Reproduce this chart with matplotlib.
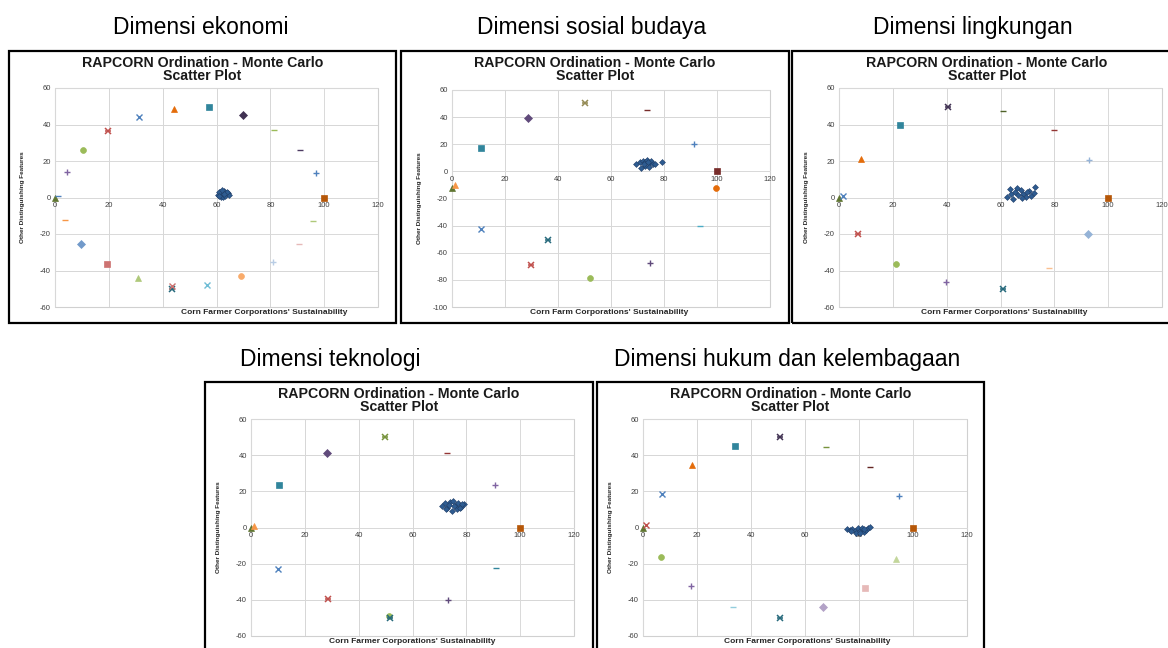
import matplotlib
matplotlib.use("Agg")
import matplotlib.pyplot as plt
from matplotlib.patches import Rectangle

plt.rcParams['axes.unicode_minus'] = False

# ---- data (x = sustainability, y = other features) ----
# Dimensi ekonomi
eko_x = [0, 1.2, 4.3, 10.5, 19.8, 31.3, 44.2, 57.1, 69.8, 81.4, 91.0, 96.9,
         100, 96.0, 90.5, 80.9, 69.1, 56.4, 43.6, 43.4, 30.9, 19.2, 9.8, 3.7]
eko_y = [0, 1.0, 14.2, 26.0, 36.6, 44.3, 48.6, 49.7, 45.0, 37.0, 26.0, 13.5,
         0, -13.0, -25.3, -35.6, -43.0, -47.7, -50.3, -48.4, -44.2, -36.2, -25.5, -12.1]
eko_mc_x = [60.5, 61.2, 62.0, 62.8, 63.5, 64.2, 61.5, 62.5, 63.2, 60.8, 64.8, 62.0, 63.8, 61.0, 62.9]
eko_mc_y = [1.5, 3.0, 2.2, 3.5, 1.8, 2.6, 0.5, 0.2, 0.9, 2.8, 1.2, 4.0, 3.2, 1.0, 2.0]

# Dimensi sosial budaya
sos_x = [0, 1.3, 11.1, 28.7, 50.3, 73.6, 91.4, 100, 99.7, 93.5, 74.8, 52.0, 29.8, 36.1, 11.1]
sos_y = [-12.6, -10.2, 17.4, 39.5, 50.1, 45.2, 19.9, 0, -12.4, -40.5, -67.3, -78.7, -68.8, -50.3, -42.7]
sos_mc_x = [69.4, 71.4, 79.2, 71.0, 72.0, 72.8, 73.5, 74.2, 75.0, 75.8, 73.0, 74.5, 72.5, 76.5, 73.8]
sos_mc_y = [5.1, 2.2, 6.6, 6.8, 8.0, 7.2, 8.3, 6.0, 7.5, 5.2, 4.2, 3.5, 5.5, 5.8, 7.0]

# Dimensi lingkungan
lin_x = [0, 1.5, 8.1, 7.1, 21.3, 22.6, 40.5, 39.9, 61.1, 60.8, 79.7, 77.9, 92.8, 92.6, 100]
lin_y = [0, 1.0, 21.0, -20.1, -36.2, 39.5, 49.7, -46.3, 47.4, -50.3, 37.1, -38.4, 20.4, -20.2, 0]
lin_mc_x = [62.5, 63.5, 64.5, 65.5, 66.5, 67.5, 68.5, 69.5, 70.5, 71.5, 72.5, 64.0, 66.0, 68.0, 70.0, 72.8]
lin_mc_y = [0.2, 4.5, -1.0, 3.0, 1.5, 4.0, 2.0, 0.5, 3.5, 1.0, 2.5, 2.0, 5.0, -0.5, 2.8, 5.8]

# Dimensi teknologi
tek_x = [0, 1.2, 10.5, 28.4, 49.8, 73.0, 90.6, 100, 90.9, 73.2, 51.4, 51.6, 28.6, 9.9]
tek_y = [0, 1.1, 23.6, 41.4, 49.8, 41.4, 23.4, 0, -22.3, -40.0, -48.7, -50.2, -39.7, -22.7]
tek_mc_x = [70.8, 72.0, 73.0, 74.0, 75.0, 76.0, 77.0, 78.0, 79.0, 74.5, 76.5, 73.5, 75.5, 77.5, 72.5, 78.5]
tek_mc_y = [12.0, 13.5, 11.0, 14.0, 14.5, 12.5, 13.8, 11.5, 12.8, 9.2, 10.5, 12.2, 11.8, 10.8, 10.0, 13.2]

# Dimensi hukum dan kelembagaan
huk_x = [0, 1.0, 7.0, 6.5, 18.1, 17.7, 34.0, 33.3, 50.9, 50.6, 67.8, 66.8, 84.0, 82.1, 94.7, 93.7, 100]
huk_y = [0, 1.3, 18.3, -16.4, 34.3, -32.1, 44.9, -43.9, 49.8, -50.2, 44.5, -44.1, 33.2, -33.4, 17.4, -17.4, 0]
huk_mc_x = [75.5, 76.5, 77.5, 78.5, 79.0, 79.8, 80.5, 81.0, 81.8, 82.5, 83.2, 84.0, 77.0, 80.2, 82.0]
huk_mc_y = [-1.0, -1.5, -0.8, -2.0, -2.8, -0.5, -1.8, -0.2, -2.5, -1.2, 0.0, 0.3, -2.2, -3.0, -0.6]

captions = ["Dimensi ekonomi", "Dimensi sosial budaya", "Dimensi lingkungan",
            "Dimensi teknologi", "Dimensi hukum dan kelembagaan"]
xlabels = ["Corn Farmer Corporations' Sustainability", "Corn Farm Corporations' Sustainability",
           "Corn Farmer Corporations' Sustainability", "Corn Farmer Corporations' Sustainability",
           "Corn Farmer Corporations' Sustainability"]
x_ticks = [0, 20, 40, 60, 80, 100, 120]

# ---- marker styles (Excel-like series markers); 'star' = x with a bar ----
eko_style = [('^', '#5F7530'), ('_', '#4F81BD'), ('+', '#8064A2'), ('o', '#9BBB59'),
             ('star', '#C0504D'), ('x', '#4F81BD'), ('^', '#E46C0A'), ('s', '#31859C'),
             ('D', '#403152'), ('_', '#9BBB59'), ('_', '#4D3B62'), ('+', '#4F81BD'),
             ('s', '#B65708'), ('_', '#AFC97A'), ('_', '#E6B9B8'), ('+', '#B9CDE5'),
             ('o', '#F9AB6B'), ('x', '#6FBDD5'), ('star', '#276A7C'), ('x', '#CD7371'),
             ('^', '#AFC97A'), ('s', '#CD7371'), ('D', '#729ACA'), ('_', '#F79646')]
sos_style = [('^', '#5F7530'), ('^', '#F79646'), ('s', '#31859C'), ('D', '#604A7B'),
             ('star', '#948A54'), ('_', '#772C2A'), ('+', '#4F81BD'), ('s', '#772C2A'),
             ('o', '#E46C0A'), ('_', '#4BACC6'), ('+', '#604A7B'), ('o', '#9BBB59'),
             ('star', '#C0504D'), ('star', '#276A7C'), ('x', '#4F81BD')]
lin_style = [('^', '#5F7530'), ('x', '#4F81BD'), ('^', '#E46C0A'), ('star', '#C0504D'),
             ('o', '#9BBB59'), ('s', '#31859C'), ('star', '#403152'), ('+', '#8064A2'),
             ('_', '#4F6228'), ('star', '#276A7C'), ('_', '#943634'), ('_', '#FAC090'),
             ('+', '#95B3D7'), ('D', '#95B3D7'), ('s', '#B65708')]
tek_style = [('^', '#5F7530'), ('^', '#F79646'), ('s', '#31859C'), ('D', '#604A7B'),
             ('star', '#77933C'), ('_', '#943634'), ('+', '#8064A2'), ('s', '#B65708'),
             ('_', '#31859C'), ('+', '#604A7B'), ('o', '#9BBB59'), ('star', '#276A7C'),
             ('star', '#C0504D'), ('x', '#4F81BD')]
huk_style = [('^', '#5F7530'), ('x', '#C0504D'), ('x', '#4F81BD'), ('o', '#9BBB59'),
             ('^', '#E46C0A'), ('+', '#8064A2'), ('s', '#31859C'), ('_', '#93CDDD'),
             ('star', '#403152'), ('star', '#276A7C'), ('_', '#77933C'), ('D', '#B3A2C7'),
             ('_', '#632523'), ('s', '#E6B9B8'), ('+', '#4F81BD'), ('^', '#C3D69B'),
             ('s', '#B65708')]

W, H = 1168, 648
FONT = 'Liberation Sans'

# panel geometry in pixels: frame box, plot area, caption position
panels = [
    dict(x=eko_x, y=eko_y, mx=eko_mc_x, my=eko_mc_y, st=eko_style, ylim=(-60, 60),
         box=(9, 51, 396, 323), area=(55, 88, 378, 307), cap=(201, 34), xl=0.647),
    dict(x=sos_x, y=sos_y, mx=sos_mc_x, my=sos_mc_y, st=sos_style, ylim=(-100, 60),
         box=(401, 51, 789, 323), area=(452, 90, 770, 307), cap=(592, 34), xl=0.494),
    dict(x=lin_x, y=lin_y, mx=lin_mc_x, my=lin_mc_y, st=lin_style, ylim=(-60, 60),
         box=(792, 51, 1182, 323), area=(839, 88, 1162, 307), cap=(973, 34), xl=0.511),
    dict(x=tek_x, y=tek_y, mx=tek_mc_x, my=tek_mc_y, st=tek_style, ylim=(-60, 60),
         box=(205, 382, 593, 660), area=(251, 419, 574, 636), cap=(330, 366), xl=0.50),
    dict(x=huk_x, y=huk_y, mx=huk_mc_x, my=huk_mc_y, st=huk_style, ylim=(-60, 60),
         box=(597, 382, 984, 660), area=(643, 419, 967, 636), cap=(787, 366), xl=0.506),
]

fig = plt.figure(figsize=(W / 100, H / 100), dpi=100)
fig.patch.set_facecolor('white')


def fx(px):
    return px / W


def fy(py):
    return 1 - py / H


for i, p in enumerate(panels):
    bx0, by0, bx1, by1 = p['box']
    fig.patches.append(Rectangle((fx(bx0), fy(by1)), fx(bx1 - bx0), (by1 - by0) / H,
                                 transform=fig.transFigure, fill=False,
                                 edgecolor='black', linewidth=1.6, clip_on=False))
    cx = (bx0 + bx1) / 2
    fig.text(fx(cx), fy(by0 + 12), "RAPCORN Ordination - Monte Carlo", ha='center', va='center',
             fontsize=10.2, fontweight='bold', family=FONT, color='#1a1a1a')
    fig.text(fx(cx), fy(by0 + 25), "Scatter Plot", ha='center', va='center',
             fontsize=10.2, fontweight='bold', family=FONT, color='#1a1a1a')
    fig.text(fx(p['cap'][0]), fy(p['cap'][1]), captions[i], ha='center', va='baseline',
             fontsize=16.5, family=FONT, color='black')

    ax0, ay0, ax1, ay1 = p['area']
    ax = fig.add_axes([fx(ax0), fy(ay1), fx(ax1 - ax0), (ay1 - ay0) / H])
    ax.set_xlim(0, 120)
    ax.set_ylim(*p['ylim'])
    yt = list(range(p['ylim'][0], p['ylim'][1] + 1, 20))
    ax.set_xticks(x_ticks)
    ax.set_yticks(yt)
    ax.set_axisbelow(True)
    ax.grid(True, color='#d9d9d9', linewidth=0.7)
    for v in [20, 40, 60, 80]:
        ax.axvline(v, color='#9a9a9a', linewidth=0.7, zorder=0.5)
    for v in [-40, 40]:
        ax.axhline(v, color='#9a9a9a', linewidth=0.7, zorder=0.5)
    for s in ['top', 'right', 'left']:
        ax.spines[s].set_visible(False)
    ax.spines['bottom'].set_position(('data', 0))
    ax.spines['bottom'].set_color('#d9d9d9')
    ax.spines['bottom'].set_linewidth(0.7)
    ax.patch.set_edgecolor('#d0d0d0')
    ax.patch.set_linewidth(0.8)
    ax.tick_params(length=0, labelsize=5.5, labelcolor='#404040', pad=3)
    for t in ax.get_xticklabels() + ax.get_yticklabels():
        t.set_family(FONT)

    for xv, yv, (m, c) in zip(p['x'], p['y'], p['st']):
        if m == 'star':
            ax.plot(xv, yv, linestyle='none', marker='x', markersize=4.2, color=c,
                    markeredgewidth=1.1, clip_on=False, zorder=3)
            ax.plot(xv, yv, linestyle='none', marker='_', markersize=4.2, color=c,
                    markeredgewidth=1.1, clip_on=False, zorder=3)
        elif m in ('x', '+', '_'):
            ax.plot(xv, yv, linestyle='none', marker=m, markersize=4.4, color=c,
                    markeredgewidth=1.0, clip_on=False, zorder=3)
        else:
            ax.plot(xv, yv, linestyle='none', marker=m, markersize=4.2 if m != 'D' else 3.6,
                    color=c, markeredgecolor=c, markeredgewidth=0.5, clip_on=False, zorder=3)
    ax.plot(p['mx'], p['my'], linestyle='none', marker='D', markersize=3.0,
            color='#2E5C91', markeredgecolor='#1F3D66', markeredgewidth=0.4, zorder=4)

    ax.text(p['xl'], -0.025, xlabels[i], transform=ax.transAxes, ha='center', va='center',
            fontsize=6, fontweight='bold', family=FONT, color='#262626')
    ax.set_ylabel("Other Distinguishing Features", fontsize=4.6, fontweight='bold',
                  family=FONT, color='#262626')
    ax.yaxis.set_label_coords(-30 / (ax1 - ax0), 0.5)

fig.savefig('out.png', dpi=100, facecolor='white')
